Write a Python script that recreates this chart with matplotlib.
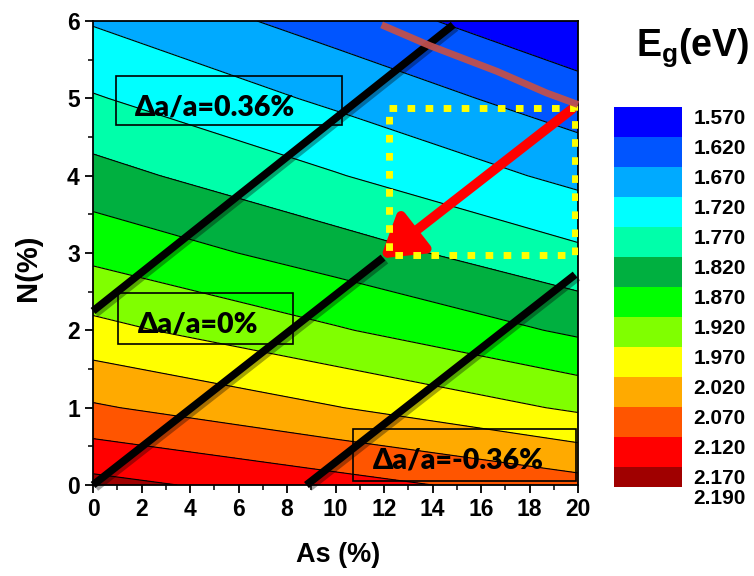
import numpy as np
import matplotlib
matplotlib.use('Agg')
import matplotlib.pyplot as plt
import matplotlib.patheffects as pe
from matplotlib.patches import Rectangle

# band gap (rows: N %, columns: As %)
as_pct = [0, 10, 20]
n_pct = [0, 1, 2, 3, 4, 5, 6]
eg = [
    [2.186, 2.140, 2.090],
    [2.076, 2.022, 1.962],
    [1.985, 1.925, 1.861],
    [1.907, 1.845, 1.780],
    [1.838, 1.773, 1.706],
    [1.774, 1.710, 1.641],
    [1.716, 1.648, 1.581],
]

levels = [1.57, 1.62, 1.67, 1.72, 1.77, 1.82, 1.87, 1.92, 1.97,
          2.02, 2.07, 2.12, 2.17, 2.19]
level_labels = ['%.3f' % v for v in levels]
colors = ['#0000FF', '#0055FF', '#00AAFF', '#00FFFF', '#00FFAA', '#00B040',
          '#00FF00', '#80FF00', '#FFFF00', '#FFAA00', '#FF5500', '#FF0000',
          '#A00000']

# lattice-mismatch lines
mis_as = [[0, 14.85], [0, 11.96], [8.8, 19.88]]
mis_n = [[2.25, 5.95], [0, 2.94], [0, 2.72]]
mis_labels = ['Δa/a=0.36%', 'Δa/a=0%', 'Δa/a=-0.36%']
mis_text_pos = [(5.05, 4.88), (4.35, 2.07), (15.05, 0.32)]
mis_boxes = [(0.95, 4.65, 9.32, 0.64), (1.03, 1.82, 7.22, 0.66), (10.72, 0.05, 9.2, 0.67)]

# brown curve, target window and arrow
curve_as = [11.9, 13.9, 16.65, 18.7, 20.0]
curve_n = [5.95, 5.68, 5.35, 5.07, 4.92]
win_as = [12.2, 19.88]
win_n = [2.98, 4.88]
arrow_from = (19.75, 4.86)
arrow_to = (11.85, 2.93)

plt.rcParams['font.family'] = ['Liberation Sans', 'DejaVu Sans']
plt.rcParams['font.weight'] = 'bold'

fig = plt.figure(figsize=(7.54, 5.76), dpi=100)
ax = fig.add_axes([93 / 754, 1 - 485 / 576, 485 / 754, 464 / 576])

X, Y = np.meshgrid(as_pct, n_pct)
Z = np.array(eg)
ax.contourf(X, Y, Z, levels=levels, colors=colors)
ax.contour(X, Y, Z, levels=levels[1:-1], colors='black', linewidths=0.8)

shadow = [pe.SimpleLineShadow(offset=(2, -2), alpha=0.35), pe.Normal()]
for xs, ys in zip(mis_as, mis_n):
    ax.plot(xs, ys, color='black', lw=5.5, solid_capstyle='butt',
            path_effects=shadow, zorder=4, clip_on=False)

for (x0, y0, w, h), lab, (tx, ty) in zip(mis_boxes, mis_labels, mis_text_pos):
    ax.add_patch(Rectangle((x0, y0), w, h, fill=False, ec='black', lw=1.2, zorder=5))
    ax.text(tx, ty, lab, ha='center', va='center', fontsize=20.5,
            family=['Lato', 'DejaVu Sans'], fontweight='heavy', zorder=5)

ax.annotate('', xy=arrow_to, xytext=arrow_from, zorder=6,
            arrowprops=dict(arrowstyle='-|>,head_length=0.8,head_width=0.5',
                            lw=7, color='#FF0000', mutation_scale=30,
                            shrinkA=0, shrinkB=0))

ax.plot([win_as[0], win_as[1], win_as[1], win_as[0], win_as[0]],
        [win_n[1], win_n[1], win_n[0], win_n[0], win_n[1]],
        color='#FFFF00', lw=5, linestyle=(0, (1.1, 1.5)),
        dash_capstyle='butt', zorder=7)

ax.plot(curve_as, curve_n, color='#C0504D', lw=5, alpha=0.95,
        solid_capstyle='butt', zorder=8, clip_on=False)

ax.set_xlim(0, 20)
ax.set_ylim(0, 6)
ax.set_xticks(range(0, 21, 2))
ax.set_xticks(range(1, 20, 2), minor=True)
ax.set_yticks(range(0, 7))
ax.set_yticks(np.arange(0.5, 6, 1), minor=True)
ax.tick_params(which='major', direction='out', length=6, width=1.3, labelsize=16.5)
ax.tick_params(which='minor', direction='out', length=3.5, width=1.1)
for s in ax.spines.values():
    s.set_linewidth(1.3)

fig.text(338 / 754, 1 - 555 / 576, 'As (%)', ha='center', va='center', fontsize=19.5)
fig.text(28 / 754, 1 - 268 / 576, 'N(%)', ha='center', va='center', fontsize=21,
         rotation=90)

# discrete colour key
cax = fig.add_axes([614 / 754, 1 - 487 / 576, 68 / 754, 380 / 576])
heights = [1] * (len(colors) - 1) + [0.67]
bottoms = np.concatenate([[0], np.cumsum(heights)[:-1]])
cax.bar(0.5, heights, bottom=bottoms, width=1, color=colors, edgecolor='none')
cax.set_xlim(0, 1)
cax.set_ylim(sum(heights), 0)
cax.axis('off')
label_pos = list(bottoms) + [sum(heights)]
for p, lab in zip(label_pos, level_labels):
    cax.text(1.17, p + 0.37, lab, ha='left', va='center', fontsize=15,
             transform=cax.transData)

fig.text(693 / 754, 1 - 48 / 576, r'E$_\mathregular{g}$(eV)', ha='center',
         va='center', fontsize=27)

fig.savefig('out.png', dpi=100)
